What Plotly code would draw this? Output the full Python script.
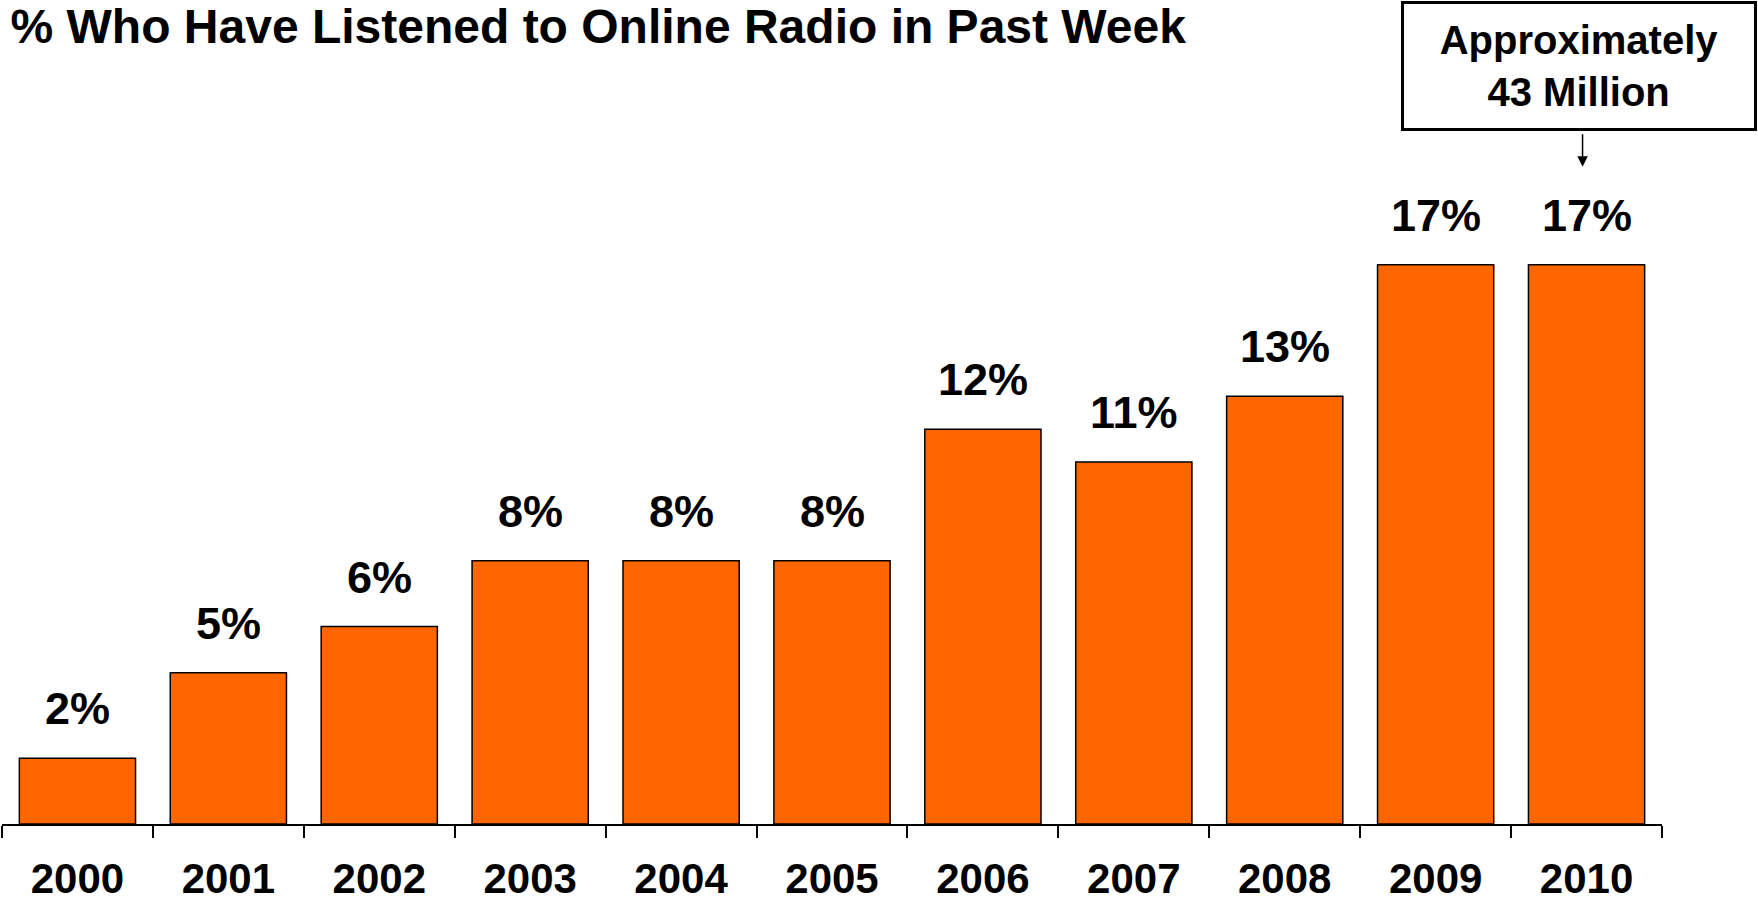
import plotly.graph_objects as go

years = ["2000", "2001", "2002", "2003", "2004", "2005", "2006", "2007", "2008", "2009", "2010"]
values = [2.0, 4.6, 6.0, 8.0, 8.0, 8.0, 12.0, 11.0, 13.0, 17.0, 17.0]
labels = ["2%", "5%", "6%", "8%", "8%", "8%", "12%", "11%", "13%", "17%", "17%"]
title_text = "% Who Have Listened to Online Radio in Past Week"
callout_text = "Approximately<br>43 Million"
callout_year = "2010"

FONT = "Liberation Sans, Arial, sans-serif"
ORANGE = "#FF6600"

fig = go.Figure()
fig.add_trace(go.Bar(
    x=years, y=values,
    marker=dict(color=ORANGE, line=dict(color="black", width=1.5)),
    hoverinfo="skip",
))

for i, (v, lab) in enumerate(zip(values, labels)):
    fig.add_annotation(x=i, y=v, text=f"<b>{lab}</b>", showarrow=False,
                       yanchor="bottom", yshift=22,
                       font=dict(family=FONT, size=45, color="black"))

# callout box
fig.add_annotation(xref="paper", yref="paper", x=0.95, y=1.251,
                   xanchor="center", yanchor="top",
                   text=f"<b>{callout_text}</b>", showarrow=False,
                   width=350, height=124, borderpad=0, borderwidth=3,
                   bordercolor="black", bgcolor="white",
                   font=dict(family=FONT, size=40, color="black"))
# arrow
fig.add_annotation(x=years.index(callout_year), y=19.98, text="", showarrow=True,
                   ax=0, ay=-34, arrowhead=2, arrowsize=1.4, arrowwidth=1.5,
                   arrowcolor="black", xshift=-4)

fig.update_layout(
    width=1758, height=904,
    margin=dict(l=2, r=96, t=166, b=80, autoexpand=False),
    paper_bgcolor="white", plot_bgcolor="white",
    bargap=0.23,
    showlegend=False,
    title=dict(text=f"<b>{title_text}</b>", x=0.006, xanchor="left",
               y=0.99, yanchor="top",
               font=dict(family=FONT, size=48, color="black")),
    xaxis=dict(type="category", showline=True, linecolor="black", linewidth=1.5,
               ticks="outside", ticklen=12, tickwidth=1.5, tickcolor="black",
               tickson="boundaries", showgrid=False, range=[-0.5, 10.5],
               automargin=False,
               tickfont=dict(family=FONT, size=42, color="black", weight="bold"),
               ticklabelstandoff=17),
    yaxis=dict(visible=False, range=[0, 20]),
)

fig.write_html("out.html", config={"displayModeBar": False},
               post_script="document.body.style.margin='0px';document.body.style.overflow='hidden';")
